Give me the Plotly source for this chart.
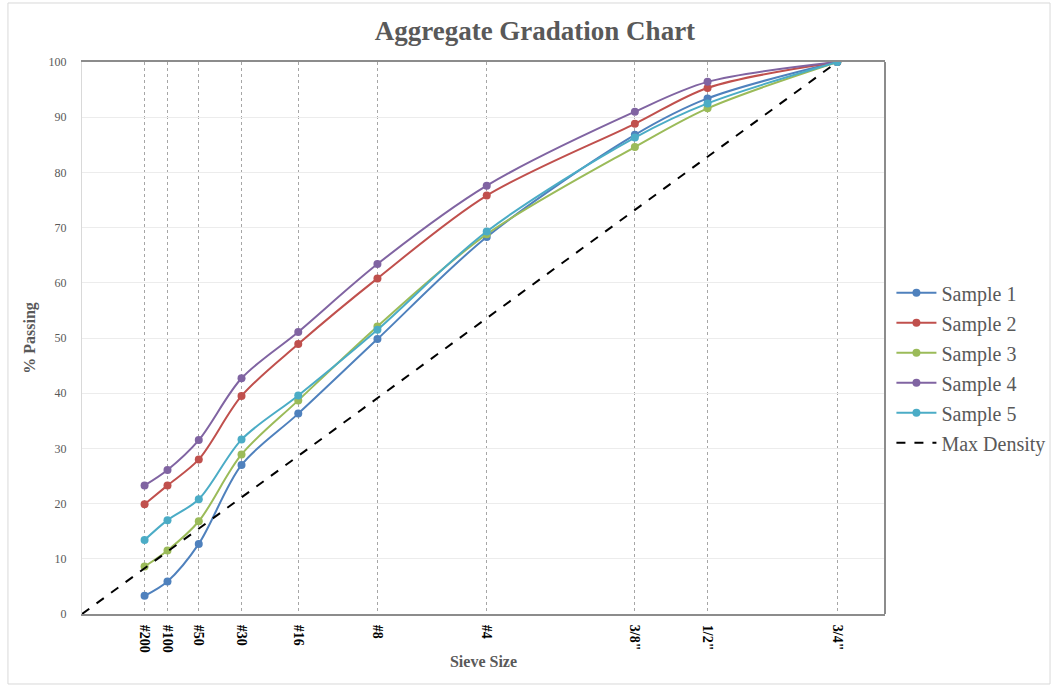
import plotly.graph_objects as go

# Sieve openings (mm) and their labels; x axis is the 0.45 power scale
sieve_labels = ["#200", "#100", "#50", "#30", "#16", "#8", "#4", "3/8\"", "1/2\"", "3/4\""]
sieve_mm = [0.075, 0.15, 0.3, 0.6, 1.18, 2.36, 4.75, 9.5, 12.5, 19.0]

sample_1 = [3.3, 5.9, 12.7, 27.0, 36.3, 49.8, 68.3, 86.8, 93.4, 100]
sample_2 = [19.9, 23.3, 28.0, 39.5, 48.9, 60.8, 75.8, 88.8, 95.3, 100]
sample_3 = [8.6, 11.5, 16.8, 28.9, 38.7, 52.1, 68.8, 84.6, 91.6, 100]
sample_4 = [23.3, 26.1, 31.5, 42.7, 51.1, 63.4, 77.6, 91.0, 96.4, 100]
sample_5 = [13.4, 17.0, 20.8, 31.6, 39.6, 51.5, 69.3, 86.3, 92.5, 100]

max_density_pct = [0, 100]

series_names = ["Sample 1", "Sample 2", "Sample 3", "Sample 4", "Sample 5"]
series_values = [sample_1, sample_2, sample_3, sample_4, sample_5]
series_colors = ["#4F81BD", "#C0504D", "#9BBB59", "#8064A2", "#4BACC6"]

POWER = 0.45
x_pos = [s ** POWER for s in sieve_mm]
max_size = sieve_mm[-1]

SERIF = "Liberation Serif, Times New Roman, serif"
GREY = "#595959"

fig = go.Figure()
for name, vals, col in zip(series_names, series_values, series_colors):
    fig.add_trace(go.Scatter(
        x=x_pos, y=vals, name=name, mode="lines+markers", legendgroup=name,
        line=dict(color=col, width=2, shape="spline", smoothing=0.9),
        marker=dict(color=col, size=8, symbol="circle"),
    ))

fig.add_trace(go.Scatter(
    x=[0, max_size ** POWER], y=max_density_pct, name="Max Density", mode="lines",
    legendgroup="Max Density",
    line=dict(color="black", width=2, dash="dash"),
))

# outer chart frame
fig.add_shape(type="rect", xref="paper", yref="paper",
              x0=-0.0922, x1=1.2055, y0=-0.1268, y1=1.1069,
              line=dict(color="#d9d9d9", width=1), layer="below")
# right edge of the plot area
fig.add_shape(type="line", xref="paper", yref="paper", x0=1, x1=1, y0=0, y1=1,
              line=dict(color="#8c8c8c", width=2))

fig.update_layout(
    width=1058, height=686,
    margin=dict(l=82, r=173, t=62, b=72, autoexpand=False),
    paper_bgcolor="white", plot_bgcolor="white",
    title=dict(text="<b>Aggregate Gradation Chart</b>", x=0.564, xref="paper",
               xanchor="center", y=0.955, yanchor="middle",
               font=dict(family=SERIF, size=27, color=GREY)),
    font=dict(family=SERIF, color=GREY),
    legend=dict(x=1.008, y=0.446, xanchor="left", yanchor="middle",
                font=dict(family=SERIF, size=20, color=GREY),
                bgcolor="rgba(0,0,0,0)", itemwidth=40, tracegroupgap=1),
    showlegend=True,
)

fig.update_xaxes(
    range=[0, 4.0], tickmode="array", tickvals=x_pos,
    ticktext=["<b>%s</b>" % t for t in sieve_labels],
    tickangle=90, tickfont=dict(family=SERIF, size=14, color="black"),
    showgrid=True, gridcolor="#a6a6a6", griddash="dot", gridwidth=1,
    showline=True, linecolor="#8c8c8c", linewidth=2, mirror=True,
    ticks="", zeroline=False, ticklabelstandoff=6,
    title=dict(text="<b>Sieve Size</b>", font=dict(family=SERIF, size=16, color=GREY),
               standoff=4),
)
fig.update_yaxes(
    range=[0, 100], dtick=10, tick0=0,
    tickfont=dict(family=SERIF, size=12, color=GREY),
    showgrid=True, gridcolor="#ececec", gridwidth=1,
    showline=True, linecolor="#d9d9d9", linewidth=1,
    ticks="", zeroline=False, ticklabelstandoff=12,
    title=dict(text="<b>% Passing</b>", font=dict(family=SERIF, size=16, color=GREY),
               standoff=8),
)

fig.write_html("out.html")
